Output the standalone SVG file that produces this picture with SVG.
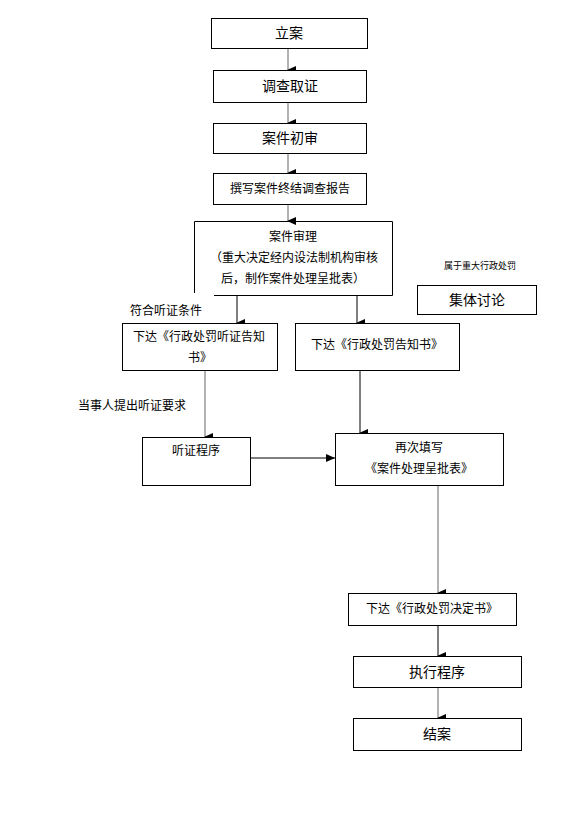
<svg xmlns="http://www.w3.org/2000/svg" width="564" height="832" viewBox="0 0 564 832">
<style>
rect.n{fill:#fff;stroke:#000;stroke-width:1}
text{font-family:"Noto Sans CJK SC","Liberation Sans",sans-serif;fill:#000;text-anchor:middle}
.t14{font-size:14px}
.t12{font-size:12px}
.t9{font-size:9px}
.c{fill:none;stroke:#000;stroke-width:1}
.g{stroke:#666}
</style>
<defs>
<marker id="ah" markerWidth="8" markerHeight="9" refX="4" refY="8" orient="auto-start-reverse" markerUnits="userSpaceOnUse" viewBox="0 0 8 9">
<path d="M0,0 L8,0 L4,9 Z" fill="#000" transform="rotate(0)"/>
</marker>
<marker id="ar" markerWidth="9" markerHeight="8" refX="9" refY="4" orient="0" markerUnits="userSpaceOnUse" viewBox="0 0 9 8">
<path d="M0,0 L9,4 L0,8 Z" fill="#000"/>
</marker>
</defs>
<rect width="564" height="832" fill="#fff"/>
<g id="connectors">
<line class="c g" x1="288" y1="48" x2="288" y2="70" marker-end="url(#ah)"/>
<line class="c g" x1="288" y1="102" x2="288" y2="123" marker-end="url(#ah)"/>
<line class="c g" x1="288" y1="153" x2="288" y2="173" marker-end="url(#ah)"/>
<line class="c g" x1="288" y1="204" x2="288" y2="221" marker-end="url(#ah)"/>
<line class="c" x1="237" y1="295" x2="237" y2="323" marker-end="url(#ah)"/>
<line class="c" x1="357" y1="295" x2="357" y2="323" marker-end="url(#ah)"/>
<line class="c g" x1="205" y1="370" x2="205" y2="437" marker-end="url(#ah)"/>
<line class="c" x1="360" y1="370" x2="360" y2="433" marker-end="url(#ah)"/>
<line class="c" x1="251" y1="458" x2="335" y2="458" marker-end="url(#ar)"/>
<line class="c g" x1="438" y1="485" x2="438" y2="593" marker-end="url(#ah)"/>
<line class="c" x1="438" y1="625" x2="438" y2="656" marker-end="url(#ah)"/>
<line class="c g" x1="438" y1="687" x2="438" y2="718" marker-end="url(#ah)"/>
</g>
<g id="n1"><rect class="n" x="211.5" y="18.5" width="156" height="30"/><text class="t14" x="289" y="38">立案</text></g>
<g id="n2"><rect class="n" x="213.5" y="70.5" width="153" height="32"/><text class="t14" x="290" y="91">调查取证</text></g>
<g id="n3"><rect class="n" x="213.5" y="123.5" width="153" height="30"/><text class="t14" x="290" y="143">案件初审</text></g>
<g id="n4"><rect class="n" x="213.5" y="173.5" width="153" height="31"/><text class="t12" x="290" y="193">撰写案件终结调查报告</text></g>
<g id="n5"><path class="c" d="M194.5,293 V221.5 H392.5 V295.5 H214"/>
<text class="t12" x="293" y="241">案件审理</text>
<text class="t12" x="294" y="262">（重大决定经内设法制机构审核</text>
<text class="t12" x="293" y="283">后，制作案件处理呈批表）</text></g>
<g id="l1"><text class="t12" x="166" y="315">符合听证条件</text></g>
<g id="n6"><rect class="n" x="122.5" y="323.5" width="155" height="47"/>
<text class="t12" x="199" y="341">下达《行政处罚听证告知</text>
<text class="t12" x="200" y="362">书》</text></g>
<g id="n7"><rect class="n" x="295.5" y="323.5" width="164" height="47"/>
<text class="t12" x="377" y="349">下达《行政处罚告知书》</text></g>
<g id="l2"><text class="t9" x="480" y="269">属于重大行政处罚</text></g>
<g id="n8"><rect class="n" x="417.5" y="285.5" width="119" height="29"/><text class="t14" x="477" y="305">集体讨论</text></g>
<g id="l3"><text class="t12" x="132" y="410">当事人提出听证要求</text></g>
<g id="n9"><rect class="n" x="142.5" y="437.5" width="108" height="48"/><text class="t12" x="196" y="455">听证程序</text></g>
<g id="n10"><rect class="n" x="335.5" y="433.5" width="168" height="52"/>
<text class="t12" x="419" y="452">再次填写</text>
<text class="t12" x="419" y="473">《案件处理呈批表》</text></g>
<g id="n11"><rect class="n" x="348.5" y="593.5" width="168" height="32"/><text class="t12" x="432" y="613">下达《行政处罚决定书》</text></g>
<g id="n12"><rect class="n" x="353.5" y="656.5" width="168" height="31"/><text class="t14" x="437" y="677">执行程序</text></g>
<g id="n13"><rect class="n" x="353.5" y="718.5" width="168" height="32"/><text class="t14" x="437" y="739">结案</text></g>
</svg>
